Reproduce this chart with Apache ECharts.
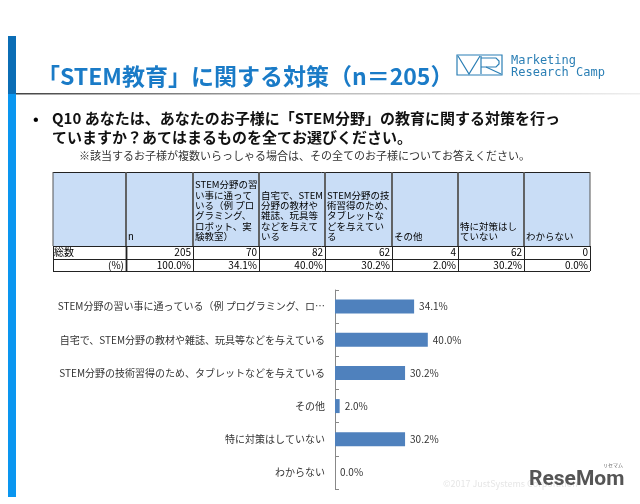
<!DOCTYPE html>
<html>
<head>
<meta charset="utf-8">
<script src="https://cdn.jsdelivr.net/npm/echarts@6/dist/echarts.min.js"></script>
<style>html,body{margin:0;padding:0;background:#fff;}#c{width:640px;height:504px;}</style>
</head>
<body>
<div id="c"></div>
<script>
// ---- data ----
var categories = [
  'STEM分野の習い事に通っている（例 プログラミング、ロ…',
  '自宅で、STEM分野の教材や雑誌、玩具等などを与えている',
  'STEM分野の技術習得のため、タブレットなどを与えている',
  'その他',
  '特に対策はしていない',
  'わからない'
];
var percentValues = [34.1, 40.0, 30.2, 2.0, 30.2, 0.0];
var tableHeaders = [
  [],
  ['n'],
  ['STEM分野の習', 'い事に通って', 'いる（例 プロ', 'グラミング、', 'ロボット、実', '験教室）'],
  ['自宅で、STEM', '分野の教材や', '雑誌、玩具等', 'などを与えて', 'いる'],
  ['STEM分野の技', '術習得のため、', 'タブレットな', 'どを与えてい', 'る'],
  ['その他'],
  ['特に対策はし', 'ていない'],
  ['わからない']
];
var tableCounts = ['205', '70', '82', '62', '4', '62', '0'];
var tablePercents = ['100.0%', '34.1%', '40.0%', '30.2%', '2.0%', '30.2%', '0.0%'];
var titleText = '「STEM教育」に関する対策（n＝205）';
var questionLines = ['Q10 あなたは、あなたのお子様に「STEM分野」の教育に関する対策を行っ', 'ていますか？あてはまるものを全てお選びください。'];
var noteText = '※該当するお子様が複数いらっしゃる場合は、その全てのお子様についてお答えください。';

// ---- layout ----
var JP = '"Noto Sans CJK JP", sans-serif';
var colX = [53, 126, 193, 259, 325, 392, 458, 524, 590];
var tTop = 172, tHead = 246, tRow1 = 259, tBot = 271;

var g = [];
// left bar
g.push({type: 'rect', shape: {x: 8, y: 36, width: 8, height: 58}, style: {fill: '#0B6DB5'}});
g.push({type: 'rect', shape: {x: 8, y: 94, width: 8, height: 403}, style: {fill: '#0A96F0'}});
// title underline
g.push({type: 'rect', shape: {x: 16, y: 93, width: 624, height: 1.5},
  style: {fill: new echarts.graphic.LinearGradient(0, 0, 1, 0, [{offset: 0, color: '#444'}, {offset: 0.5, color: '#bbb'}, {offset: 1, color: '#eee'}])}});
// title
g.push({type: 'text', style: {text: titleText, x: 37, y: 76, font: 'bold 23px ' + JP, fill: '#1A7BC7', verticalAlign: 'middle'}});
// logo
var lc = '#2B7FB5';
g.push({type: 'rect', shape: {x: 457, y: 55, width: 45, height: 20}, style: {fill: 'none', stroke: lc, lineWidth: 1.2}});
g.push({type: 'polyline', shape: {points: [[458, 56], [469, 74], [480, 56]]}, style: {fill: 'none', stroke: lc, lineWidth: 1.2}});
g.push({type: 'line', shape: {x1: 481, y1: 56, x2: 481, y2: 74}, style: {stroke: lc, lineWidth: 1.2}});
g.push({type: 'polyline', shape: {points: [[481, 58], [496, 58], [499, 61], [499, 64], [496, 67], [481, 67]]}, style: {fill: 'none', stroke: lc, lineWidth: 1.2}});
g.push({type: 'line', shape: {x1: 486, y1: 67, x2: 501, y2: 74}, style: {stroke: lc, lineWidth: 1.2}});
g.push({type: 'text', style: {text: 'Marketing', x: 511, y: 61, font: '12px "DejaVu Sans Mono", monospace', fill: lc, verticalAlign: 'middle'}});
g.push({type: 'text', style: {text: 'Research Camp', x: 511, y: 73, font: '12px "DejaVu Sans Mono", monospace', fill: lc, verticalAlign: 'middle'}});
// question
g.push({type: 'text', style: {text: '•', x: 33, y: 118, font: 'bold 15px ' + JP, fill: '#000', verticalAlign: 'middle'}});
g.push({type: 'text', style: {text: questionLines[0], x: 52, y: 118, font: 'bold 15px ' + JP, fill: '#111', verticalAlign: 'middle'}});
g.push({type: 'text', style: {text: questionLines[1], x: 52, y: 137, font: 'bold 15px ' + JP, fill: '#111', verticalAlign: 'middle'}});
g.push({type: 'text', style: {text: noteText, x: 79, y: 156, font: '11px ' + JP, fill: '#333', verticalAlign: 'middle'}});

// table
g.push({type: 'rect', shape: {x: colX[0], y: tTop, width: colX[8] - colX[0], height: tHead - tTop}, style: {fill: '#C9DDF6'}});
[tTop, tHead, tRow1, tBot].forEach(function (y) {
  g.push({type: 'line', shape: {x1: colX[0], y1: y + 0.5, x2: colX[8], y2: y + 0.5}, style: {stroke: '#222', lineWidth: 1}});
});
colX.forEach(function (x, i) {
  g.push({type: 'line', shape: {x1: x, y1: tTop, x2: x, y2: tHead}, style: {stroke: '#555', lineWidth: (i === 0 || i === 8) ? 1 : 1.8}});
  g.push({type: 'line', shape: {x1: x + 0.5, y1: tHead, x2: x + 0.5, y2: tBot}, style: {stroke: '#222', lineWidth: (i === 1) ? 1.8 : 1}});
});
tableHeaders.forEach(function (lines, c) {
  var n = lines.length;
  lines.forEach(function (t, k) {
    g.push({type: 'text', style: {text: t, x: colX[c] + 2, y: 236.5 - (n - 1 - k) * 10.4, font: '9.5px ' + JP, fill: '#000', verticalAlign: 'middle'}});
  });
});
g.push({type: 'text', style: {text: '総数', x: colX[0] + 1, y: 252.5, font: '10px ' + JP, fill: '#000', verticalAlign: 'middle'}});
g.push({type: 'text', style: {text: '(%)', x: colX[1] - 2, y: 265.5, font: '10px ' + JP, fill: '#000', align: 'right', verticalAlign: 'middle'}});
tableCounts.forEach(function (t, i) {
  g.push({type: 'text', style: {text: t, x: colX[i + 2] - 2, y: 252.5, font: '10px ' + JP, fill: '#000', align: 'right', verticalAlign: 'middle'}});
});
tablePercents.forEach(function (t, i) {
  g.push({type: 'text', style: {text: t, x: colX[i + 2] - 2, y: 265.5, font: '10px ' + JP, fill: '#000', align: 'right', verticalAlign: 'middle'}});
});
// watermark
g.push({type: 'text', style: {text: '©2017 JustSystems Corporation', x: 443, y: 484, font: '9px ' + JP, fill: '#e6e6e6', verticalAlign: 'middle'}});
g.push({type: 'text', style: {text: 'ReseMom', x: 529, y: 480, font: 'bold 21px Roboto, sans-serif', fill: '#555', verticalAlign: 'middle'}});
g.push({type: 'text', style: {text: 'リセマム', x: 603, y: 465, font: '5px ' + JP, fill: '#666', verticalAlign: 'middle'}});

var chart = echarts.init(document.getElementById('c'), null, {renderer: 'canvas'});
chart.setOption({
  animation: false,
  backgroundColor: '#fff',
  graphic: g,
  grid: {left: 335, top: 290, width: 232, height: 199, containLabel: false},
  xAxis: {type: 'value', min: 0, max: 100, show: false},
  yAxis: {
    type: 'category', inverse: true, data: categories,
    axisLine: {show: true, lineStyle: {color: '#888', width: 1}},
    axisTick: {show: true, inside: true, length: 4, lineStyle: {color: '#888'}},
    axisLabel: {fontSize: 10, color: '#333', margin: 10, fontFamily: JP}
  },
  series: [{
    type: 'bar', data: percentValues, barWidth: 14,
    itemStyle: {color: '#4F81BD'},
    label: {show: true, position: 'right', distance: 5, fontSize: 10, color: '#333', fontFamily: JP,
      formatter: function (p) { return p.value.toFixed(1) + '%'; }}
  }]
});
</script>
</body>
</html>
